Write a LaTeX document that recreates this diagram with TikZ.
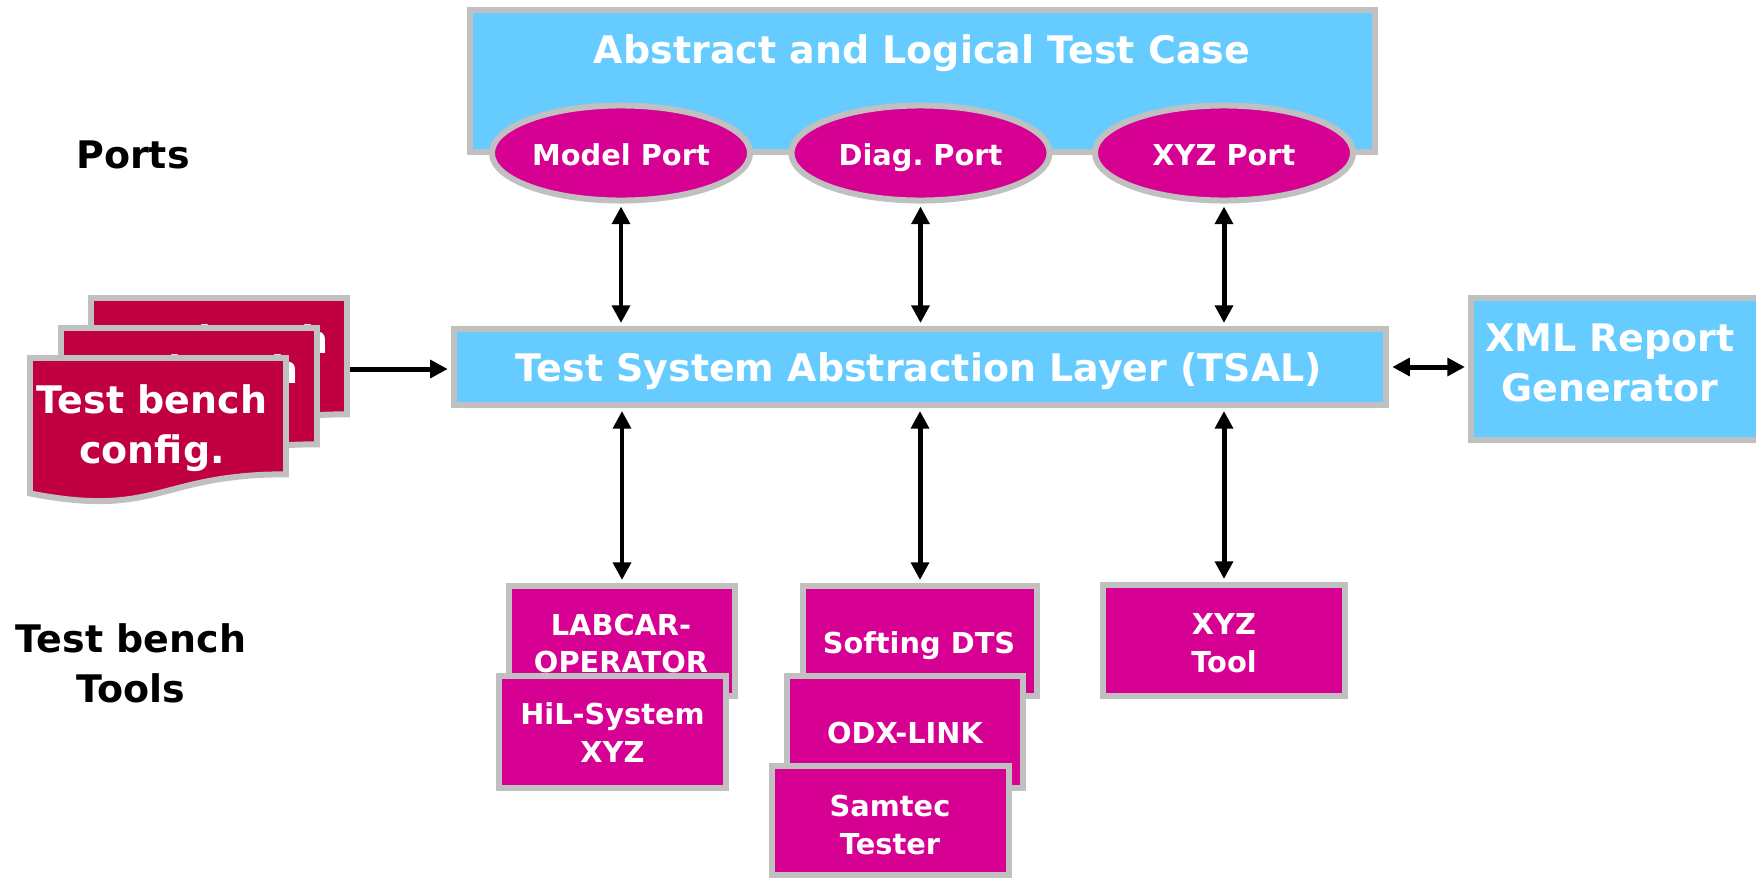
\documentclass[tikz,border=0pt]{standalone}
\usepackage{fontspec}
\setmainfont{DejaVu Sans}
\usetikzlibrary{shapes.geometric,arrows.meta}
\definecolor{lblue}{RGB}{102,204,255}
\definecolor{magen}{RGB}{214,0,147}
\definecolor{crim}{RGB}{192,0,64}
\definecolor{bgrey}{RGB}{192,192,192}
\newcommand\bigf{\fontsize{10.8}{14.2}\selectfont\bfseries}
\newcommand\smallf{\fontsize{8.2}{10.8}\selectfont\bfseries}
\begin{document}
\begin{tikzpicture}[x=0.01cm,y=-0.01cm,
  blubox/.style={draw=bgrey,line width=1.7pt,fill=lblue,inner sep=0pt},
  toolbox/.style={draw=bgrey,line width=1.7pt,fill=magen,inner sep=0pt},
  port/.style={ellipse,draw=bgrey,line width=1.7pt,fill=magen,inner sep=0pt,minimum width=2.58cm,minimum height=0.95cm,text=white,font=\smallf,text height=7.2pt,text depth=0pt},
  sheet/.style={draw=bgrey,line width=1.7pt,fill=crim},
  wbig/.style={text=white,font=\bigf,inner sep=0pt,align=center},
  wbigone/.style={text=white,font=\bigf,inner sep=0pt},
  wsmall/.style={text=white,font=\smallf,inner sep=0pt,align=center},
  wsmallone/.style={text=white,font=\smallf,inner sep=0pt},
  kbig/.style={text=black,font=\bigf,inner sep=0pt,align=center},
  kbigone/.style={text=black,font=\bigf,inner sep=0pt},
  link/.style={line width=1.42pt,{Triangle[length=5pt,width=5pt]}-{Triangle[length=5pt,width=5pt]},shorten <=0.85pt,shorten >=0.85pt},
  onelink/.style={line width=1.42pt,-{Triangle[length=5pt,width=5pt]},shorten >=0.85pt},
]
\useasboundingbox (0,0) rectangle (1756,878);
\fill[white] (0,0) rectangle (1756,878);

% top box and ports
\node[blubox,minimum width=9.05cm,minimum height=1.42cm] (atc) at (922.5,81) {};
\node[wbigone,anchor=base] (atct) at (922,63) {Abstract and Logical Test Case};
\node[port] (mp) at (621,153) {Model Port};
\node[port] (dp) at (920.5,153) {Diag.\ Port};
\node[port] (xp) at (1224,153) {XYZ Port};
\node[kbigone,anchor=base] (ports) at (133,168) {Ports};

% TSAL and XML
\node[blubox,minimum width=9.32cm,minimum height=0.76cm] (tsal) at (920,367) {};
\node[wbigone,anchor=base] (tsalt) at (919,381) {Test System Abstraction Layer (TSAL)};
\node[blubox,minimum width=2.99cm,minimum height=1.42cm] (xml) at (1620.5,369) {};
\node[wbig] (xmlt) at (1610,363) {XML Report\\Generator};

% config sheets
\filldraw[sheet] (91,298) -- (347,298) -- (347,414.3) .. controls (219,414.3) and (219,458.5) .. (91,433.4) -- cycle;
\node[wbig] (cfg3) at (213,368) {Test bench\\config.};
\filldraw[sheet] (61,328) -- (317,328) -- (317,444.3) .. controls (189,444.3) and (189,488.5) .. (61,463.4) -- cycle;
\node[wbig] (cfg2) at (183,398) {Test bench\\config.};
\filldraw[sheet] (30,358) -- (286,358) -- (286,474.3) .. controls (158,474.3) and (158,518.5) .. (30,493.4) -- cycle;
\node[wbig] (cfg1) at (152,428) {Test bench\\config.};
\coordinate (cfgout) at (350,369);

% tools
\node[toolbox,minimum width=2.26cm,minimum height=1.10cm] (lab) at (622,641) {};
\node[wsmall] (labt) at (621,643.5) {LABCAR-\\OPERATOR};
\node[toolbox,minimum width=2.27cm,minimum height=1.12cm] (hil) at (612.5,732) {};
\node[wsmall] (hilt) at (612.5,733) {HiL-System\\XYZ};
\node[toolbox,minimum width=2.33cm,minimum height=1.10cm] (soft) at (920,641) {};
\node[wsmallone,anchor=base] (softt) at (919,653) {Softing DTS};
\node[toolbox,minimum width=2.36cm,minimum height=1.12cm] (odx) at (905,732) {};
\node[wsmallone,anchor=base] (odxt) at (905,743) {ODX-LINK};
\node[toolbox,minimum width=2.37cm,minimum height=1.09cm] (sam) at (890.5,820.5) {};
\node[wsmall] (samt) at (890,825) {Samtec\\Tester};
\node[toolbox,minimum width=2.42cm,minimum height=1.11cm] (xyzt) at (1224,640.5) {};
\node[wsmall] (xyztt) at (1224,643.5) {XYZ\\Tool};
\node[kbig] (tbt) at (131,663.5) {Test bench\\Tools};

% connectors
\draw[link] (mp.south) -- (mp.south |- tsal.north);
\draw[link] (dp.south) -- (dp.south |- tsal.north);
\draw[link] (xp.south) -- (xp.south |- tsal.north);
\draw[link] (tsal.south -| lab.north) -- (lab.north);
\draw[link] (tsal.south -| soft.north) -- (soft.north);
\draw[link] (tsal.south -| xyzt.north) -- (xyzt.north);
\draw[link] (tsal.east) -- (tsal.east -| xml.west);
\draw[onelink] (cfgout) -- (cfgout -| tsal.west);
\end{tikzpicture}
\end{document}
